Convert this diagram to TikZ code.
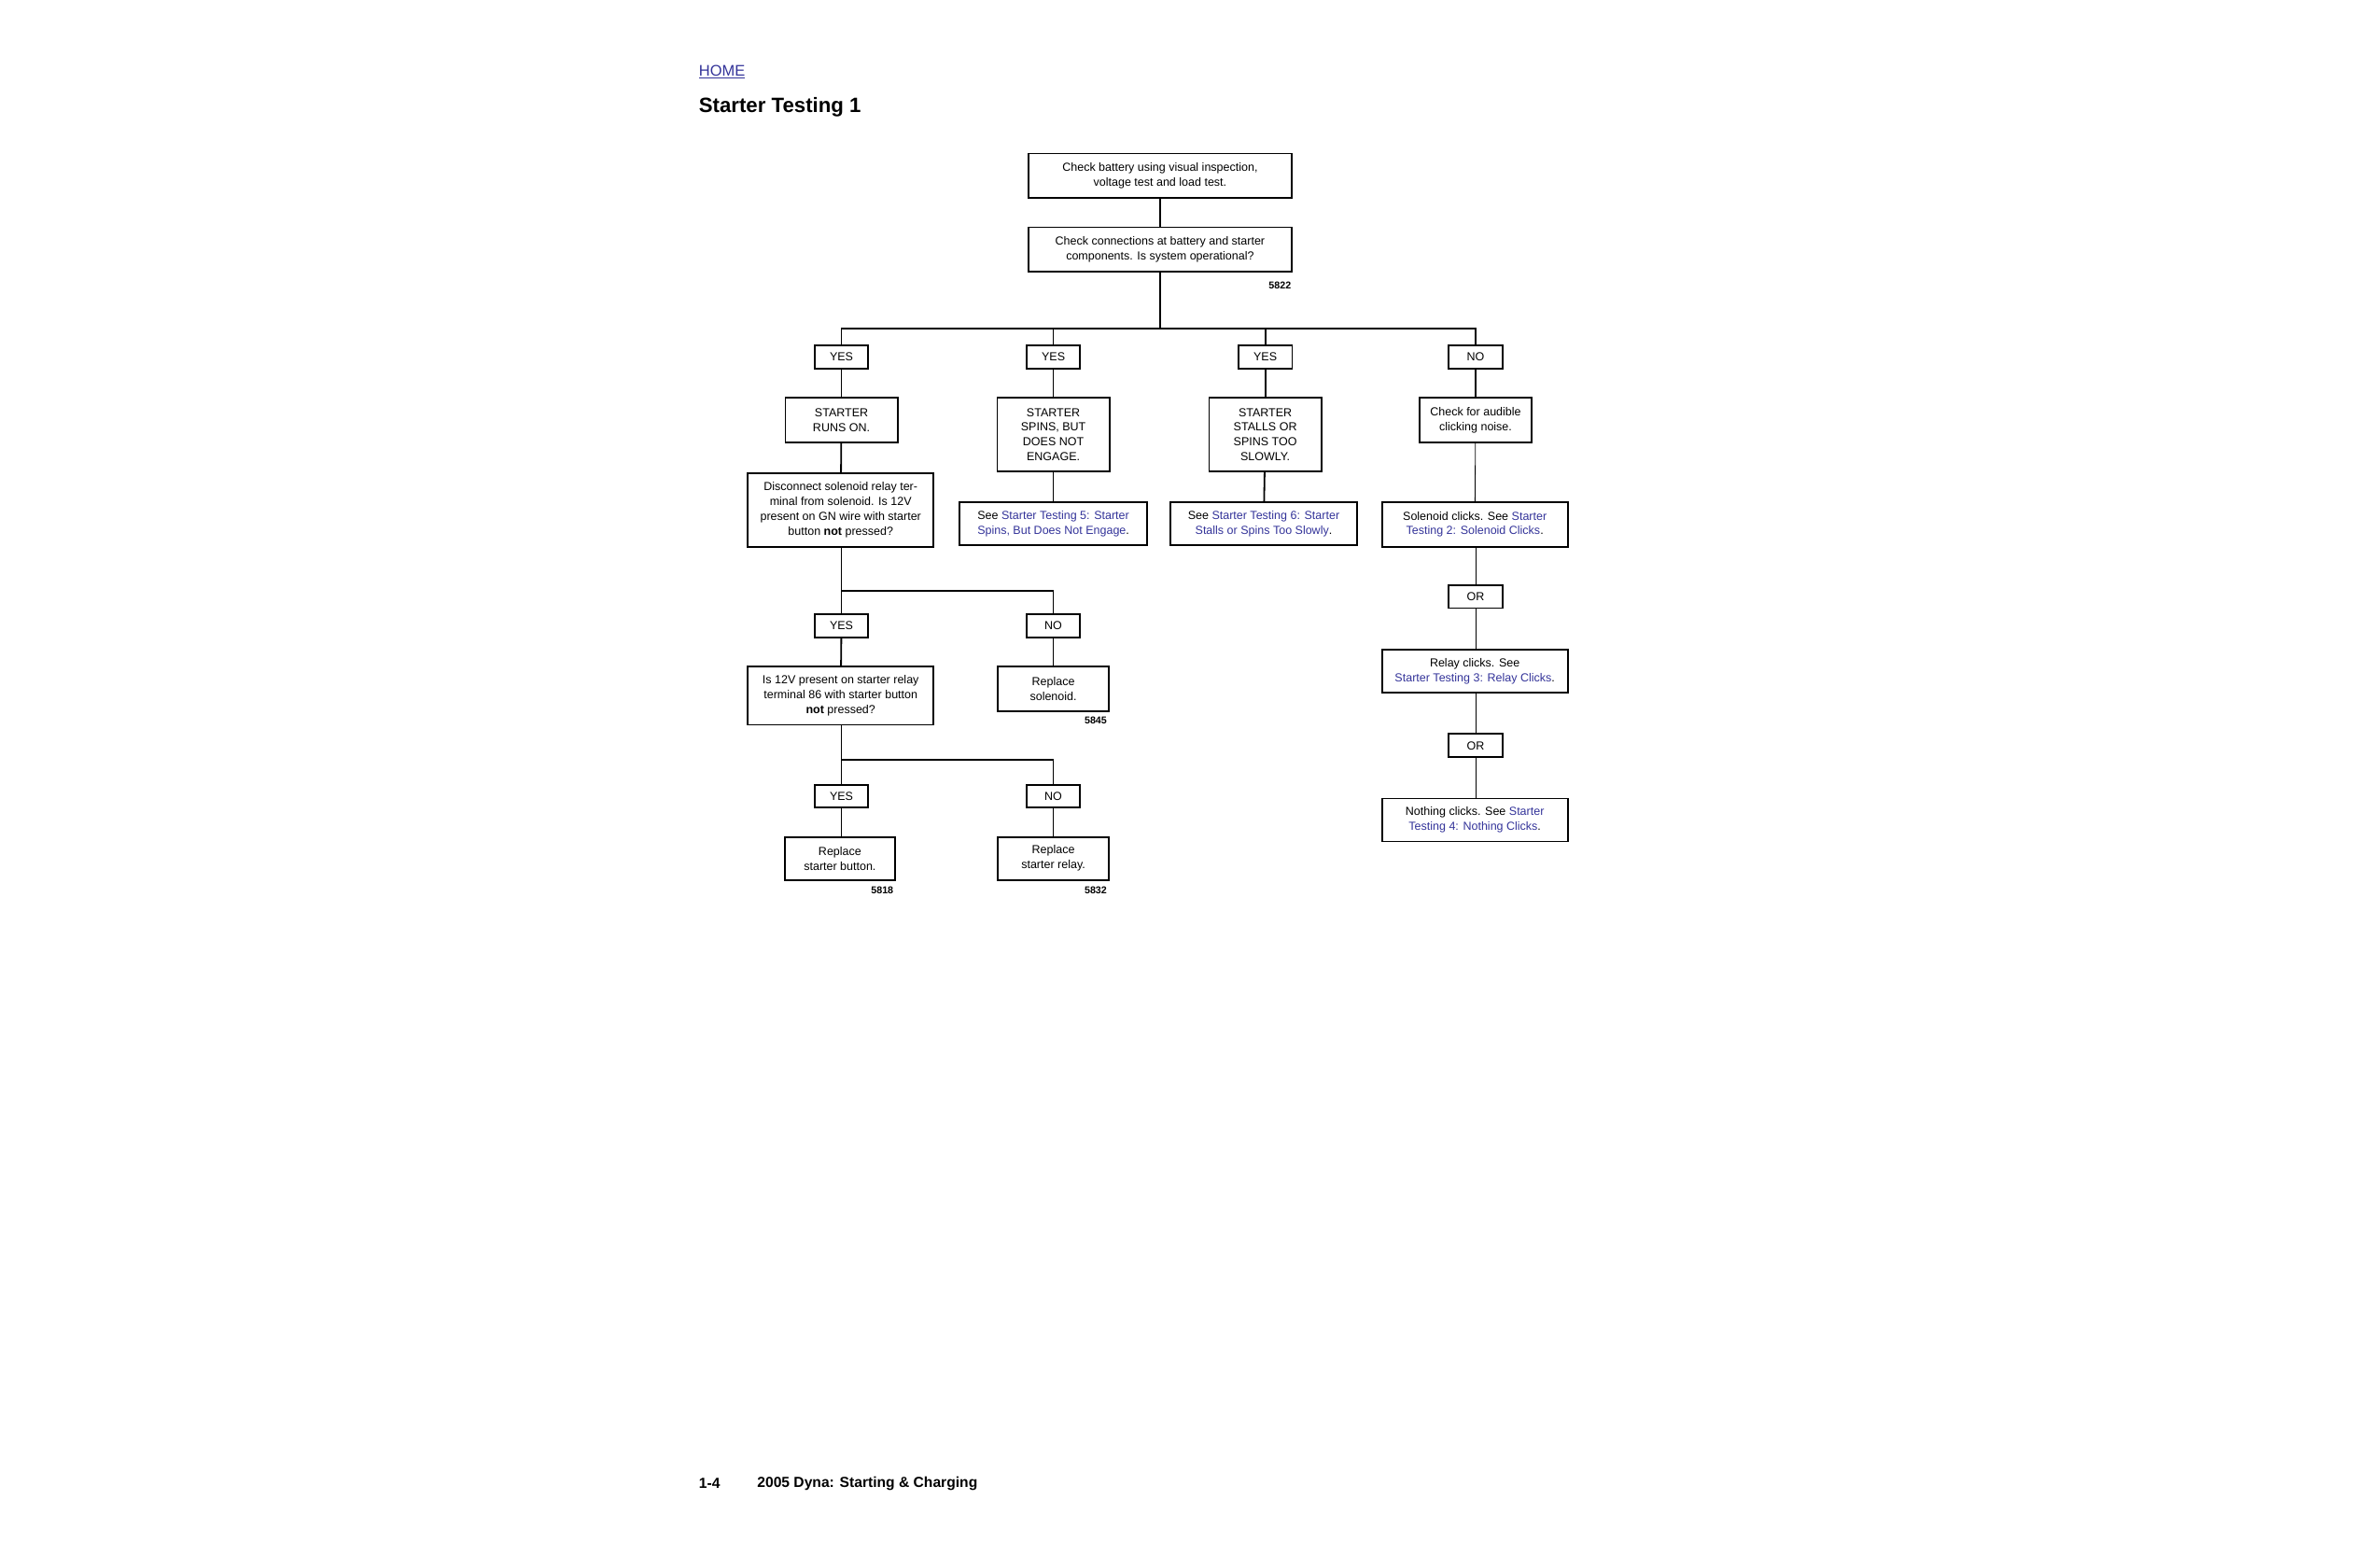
\documentclass[tikz,border=0pt]{standalone}
\usepackage{fontspec}
\setmainfont{Liberation Sans}
\definecolor{lnk}{HTML}{333399}
\begin{document}
\begin{tikzpicture}[x=1pt,y=-1pt,
  bx/.style={draw,line width=1.1pt,align=center,inner sep=0pt,font=\fontsize{7.6}{9.6}\selectfont},
  yn/.style={bx,minimum width=35pt,minimum height=15pt},
  cn/.style={line width=1.1pt},
  tn/.style={line width=0.5pt},
  num/.style={font=\fontsize{6.5}{7}\selectfont\bfseries,anchor=east,inner sep=0pt}]
\useasboundingbox (0,0) rectangle (1550,1003.6);
\node[anchor=west,inner sep=0pt,text=lnk,font=\fontsize{10}{12}\selectfont] (home) at (455,47) {\underline{HOME}};
\node[anchor=west,inner sep=0pt,font=\fontsize{13.5}{16}\selectfont\bfseries] (title) at (455,70) {Starter Testing 1};
% top
\node[bx,minimum width=171pt,minimum height=29pt] (b1) at (755.5,114.5) {Check battery using visual inspection,\\voltage test and load test.};
\node[bx,minimum width=171pt,minimum height=29pt] (b2) at (755.5,162.5) {Check connections at battery and starter\\components. Is system operational?};
\node[num] (n1) at (841,186) {5822};
\coordinate (bus) at (755.5,214);
% level 1
\node[yn] (y1) at (548,232.5) {YES};
\node[yn] (y2) at (686,232.5) {YES};
\node[yn] (y3) at (824,232.5) {YES};
\node[yn] (no1) at (961,232.5) {NO};
% level 2
\node[bx,minimum width=73pt,minimum height=29pt] (s1) at (548,273.5) {STARTER\\RUNS ON.};
\node[bx,minimum width=73pt,minimum height=48pt] (s2) at (686,283) {STARTER\\SPINS, BUT\\DOES NOT\\ENGAGE.};
\node[bx,minimum width=73pt,minimum height=48pt] (s3) at (824,283) {STARTER\\STALLS OR\\SPINS TOO\\SLOWLY.};
\node[bx,minimum width=73pt,minimum height=29pt] (s4) at (961,273.5) {Check for audible\\clicking noise.};
% level 3
\node[bx,minimum width=121pt,minimum height=48pt] (d1) at (547.5,332) {Disconnect solenoid relay ter-\\minal from solenoid. Is 12V\\present on GN wire with starter\\button \textbf{not} pressed?};
\node[bx,minimum width=122pt,minimum height=28pt] (r5) at (686,341) {See \textcolor{lnk}{Starter Testing 5: Starter}\\\textcolor{lnk}{Spins, But Does Not Engage}.};
\node[bx,minimum width=122pt,minimum height=28pt] (r6) at (823,341) {See \textcolor{lnk}{Starter Testing 6: Starter}\\\textcolor{lnk}{Stalls or Spins Too Slowly}.};
\node[bx,minimum width=121pt,minimum height=29pt] (r2) at (960.5,341.5) {Solenoid clicks. See \textcolor{lnk}{Starter}\\\textcolor{lnk}{Testing 2: Solenoid Clicks}.};
% left branch
\coordinate (sp1) at (548,385);
\node[yn] (y4) at (548,407.5) {YES};
\node[yn] (no2) at (686,407.5) {NO};
\node[bx,minimum width=121pt,minimum height=38pt] (d2) at (547.5,453) {Is 12V present on starter relay\\terminal 86 with starter button\\\textbf{not} pressed?};
\node[bx,minimum width=72pt,minimum height=29pt] (rs) at (686,448.5) {Replace\\solenoid.};
\node[num] (n2) at (721,469) {5845};
\coordinate (sp2) at (548,495);
\node[yn] (y5) at (548,518.5) {YES};
\node[yn] (no3) at (686,518.5) {NO};
\node[bx,minimum width=72pt,minimum height=28pt] (rb) at (547,559) {Replace\\starter button.};
\node[bx,minimum width=72pt,minimum height=28pt] (rr) at (686,559) {Replace\\starter relay.};
\node[num] (n3) at (582,579.5) {5818};
\node[num] (n4) at (721,579.5) {5832};
% right branch
\node[yn] (or1) at (961,388.5) {OR};
\node[bx,minimum width=121pt,minimum height=28pt] (r3) at (960.5,437) {Relay clicks. See\\\textcolor{lnk}{Starter Testing 3: Relay Clicks}.};
\node[yn] (or2) at (961,485.5) {OR};
\node[bx,minimum width=121pt,minimum height=28pt] (r4) at (960.5,534) {Nothing clicks. See \textcolor{lnk}{Starter}\\\textcolor{lnk}{Testing 4: Nothing Clicks}.};
% footer
\node[anchor=west,inner sep=0pt,font=\fontsize{9.5}{11}\selectfont\bfseries] (pg) at (455,966) {1-4};
\node[anchor=west,inner sep=0pt,font=\fontsize{9.5}{11}\selectfont\bfseries] (ft) at (493,966) {2005 Dyna: Starting \& Charging};
% connectors
\draw[cn] (b1) -- (b2);
\draw[cn] (b2) -- (bus);
\draw[cn] (y1.north) |- (bus) -| (no1.north);
\draw[cn] (y2.north) -- (y2.north |- bus);
\draw[cn] (y3.north) -- (y3.north |- bus);
\draw[cn] (y1) -- (s1); \draw[cn] (s1) -- (d1);
\draw[cn] (y2) -- (s2); \draw[cn] (s2) -- (r5);
\draw[cn] (y3) -- (s3); \draw[cn] (s3) -- (r6);
\draw[cn] (no1) -- (s4);
\draw[tn] (s4) -- (r2);
\draw[cn] (d1.south -| y4) -- (y4.north);
\draw[cn] (sp1) -| (no2.north);
\draw[cn] (y4) -- (d2); \draw[cn] (no2) -- (rs);
\draw[cn] (d2.south -| y5) -- (y5.north);
\draw[cn] (sp2) -| (no3.north);
\draw[cn] (y5) -- (rb.north -| y5); \draw[cn] (no3) -- (rr);
\draw[tn] (r2.south -| or1) -- (or1); \draw[tn] (or1) -- (r3.north -| or1);
\draw[tn] (r3.south -| or2) -- (or2); \draw[tn] (or2) -- (r4.north -| or2);
\end{tikzpicture}
\end{document}
